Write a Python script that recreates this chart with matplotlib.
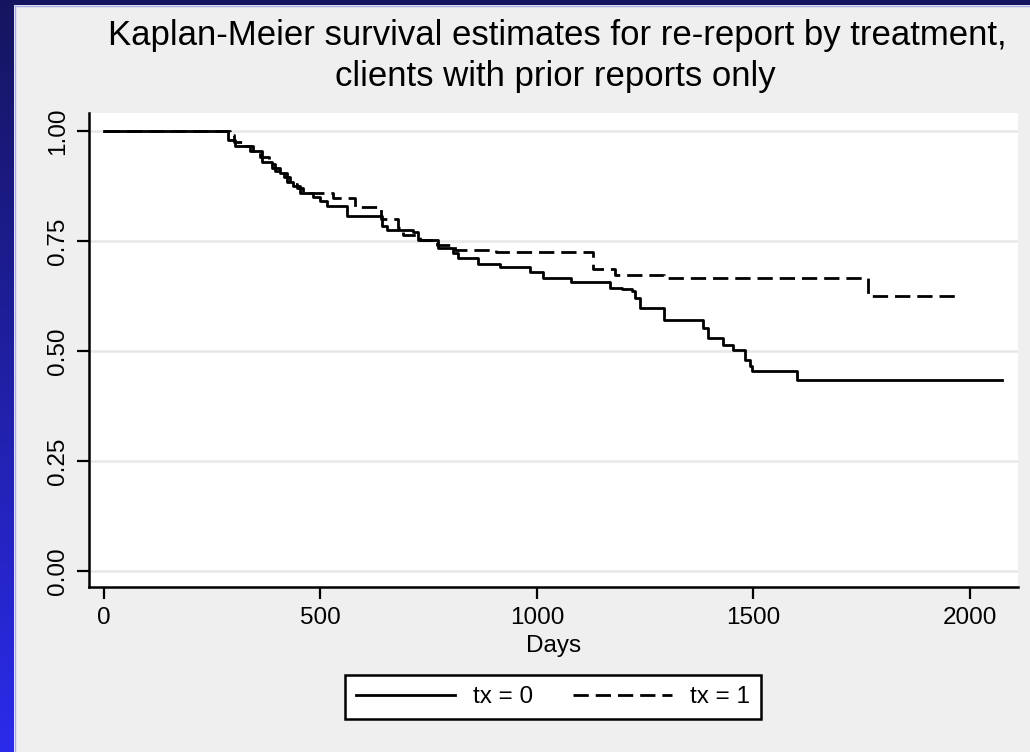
import numpy as np
import matplotlib
matplotlib.use("Agg")
import matplotlib.pyplot as plt
from matplotlib.colors import LinearSegmentedColormap

plt.rcParams['font.family'] = ['Liberation Sans', 'DejaVu Sans']

# Kaplan-Meier step data (days, survival after the step)
tx0_days = [0, 286, 303, 337, 365, 388, 406, 423, 436, 453, 483, 499, 515, 561,
            642, 654, 714, 725, 771, 806, 818, 864, 915, 984, 1014, 1079, 1169,
            1196, 1219, 1226, 1238, 1293, 1383, 1395, 1430, 1453, 1480, 1492,
            1497, 1600, 2074]
tx0_surv = [1.000, 0.980, 0.967, 0.955, 0.930, 0.915, 0.905, 0.885, 0.875, 0.860,
            0.851, 0.840, 0.829, 0.807, 0.784, 0.775, 0.770, 0.752, 0.734, 0.723,
            0.711, 0.698, 0.691, 0.680, 0.666, 0.657, 0.643, 0.641, 0.636, 0.620,
            0.598, 0.570, 0.552, 0.530, 0.514, 0.502, 0.480, 0.466, 0.455, 0.434,
            0.434]

tx1_days = [0, 290, 300, 320, 345, 360, 380, 395, 415, 430, 445, 460, 530, 580,
            640, 680, 690, 730, 770, 810, 905, 1129, 1180, 1293, 1764, 1975]
tx1_surv = [1.000, 0.990, 0.975, 0.965, 0.955, 0.940, 0.925, 0.910, 0.895, 0.880,
            0.870, 0.860, 0.848, 0.827, 0.800, 0.780, 0.764, 0.752, 0.740, 0.730,
            0.725, 0.686, 0.673, 0.666, 0.625, 0.625]

yticks = [0, 0.25, 0.5, 0.75, 1.0]
ylabels = ["0.00", "0.25", "0.50", "0.75", "1.00"]
xticks = [0, 500, 1000, 1500, 2000]

W, H = 1030, 752
fig = plt.figure(figsize=(W / 100, H / 100), dpi=100, facecolor="#efefef")

# slide border: gradient strip on the left, navy band on top
grad = fig.add_axes([0, 0, 14 / W, 1])
cmap = LinearSegmentedColormap.from_list("slide", ["#2b2beb", "#15155f"])
grad.imshow(np.linspace(0, 1, 256).reshape(-1, 1), aspect="auto", cmap=cmap,
            origin="lower", extent=[0, 1, 0, 1])
grad.axis("off")
top = fig.add_axes([0, 1 - 5 / H, 1, 5 / H])
top.set_facecolor("#15155f")
top.set_xticks([]); top.set_yticks([])
for s in top.spines.values():
    s.set_visible(False)
fig.add_artist(plt.Line2D([14.5 / W, 14.5 / W], [0, 1 - 5 / H], color="#aaaae6", lw=1))
fig.add_artist(plt.Line2D([14.5 / W, 1], [1 - 5.5 / H, 1 - 5.5 / H], color="#aaaae6", lw=1))

ax = fig.add_axes([89 / W, (H - 587) / H, 929 / W, 474 / H])
ax.set_facecolor("white")

for y in yticks:
    ax.axhline(y, color="#e8e8e8", lw=1.8, zorder=0)

ax.step(tx0_days, tx0_surv, where="post", color="black", lw=2.0, label="tx = 0")
ax.step(tx1_days, tx1_surv, where="post", color="black", lw=2.0,
        dashes=(5.5, 2.5), label="tx = 1")

ax.set_xlim(-34.6, 2111)
ax.set_ylim(-0.036, 1.041)
ax.set_xticks(xticks)
ax.set_yticks(yticks)
ax.set_yticklabels(ylabels, rotation=90, va="center")
ax.tick_params(axis="both", direction="out", length=8.5, width=1.6,
               labelsize=17.5, colors="black")
ax.tick_params(axis="y", pad=6)
ax.tick_params(axis="x", pad=6)
ax.spines["top"].set_visible(False)
ax.spines["right"].set_visible(False)
ax.spines["left"].set_linewidth(1.8)
ax.spines["bottom"].set_linewidth(1.8)

ax.set_xlabel("Days", fontsize=17.5, labelpad=4)

fig.text(557 / W, 1 - 45 / H,
         "Kaplan-Meier survival estimates for re-report by treatment,",
         ha="center", va="baseline", fontsize=25)
fig.text(555 / W, 1 - 86 / H, "clients with prior reports only",
         ha="center", va="baseline", fontsize=25)

leg = ax.legend(loc="center", bbox_to_anchor=(553 / W, 1 - 697 / H),
                bbox_transform=fig.transFigure, ncol=2, fontsize=17.5,
                handlelength=4.1, handletextpad=0.75, columnspacing=1.6,
                frameon=True, fancybox=False, borderpad=0.45)
leg.get_frame().set_edgecolor("black")
leg.get_frame().set_linewidth(1.8)
leg.get_frame().set_facecolor("white")
leg.get_frame().set_alpha(1)

fig.savefig("out.png", dpi=100, facecolor=fig.get_facecolor())
